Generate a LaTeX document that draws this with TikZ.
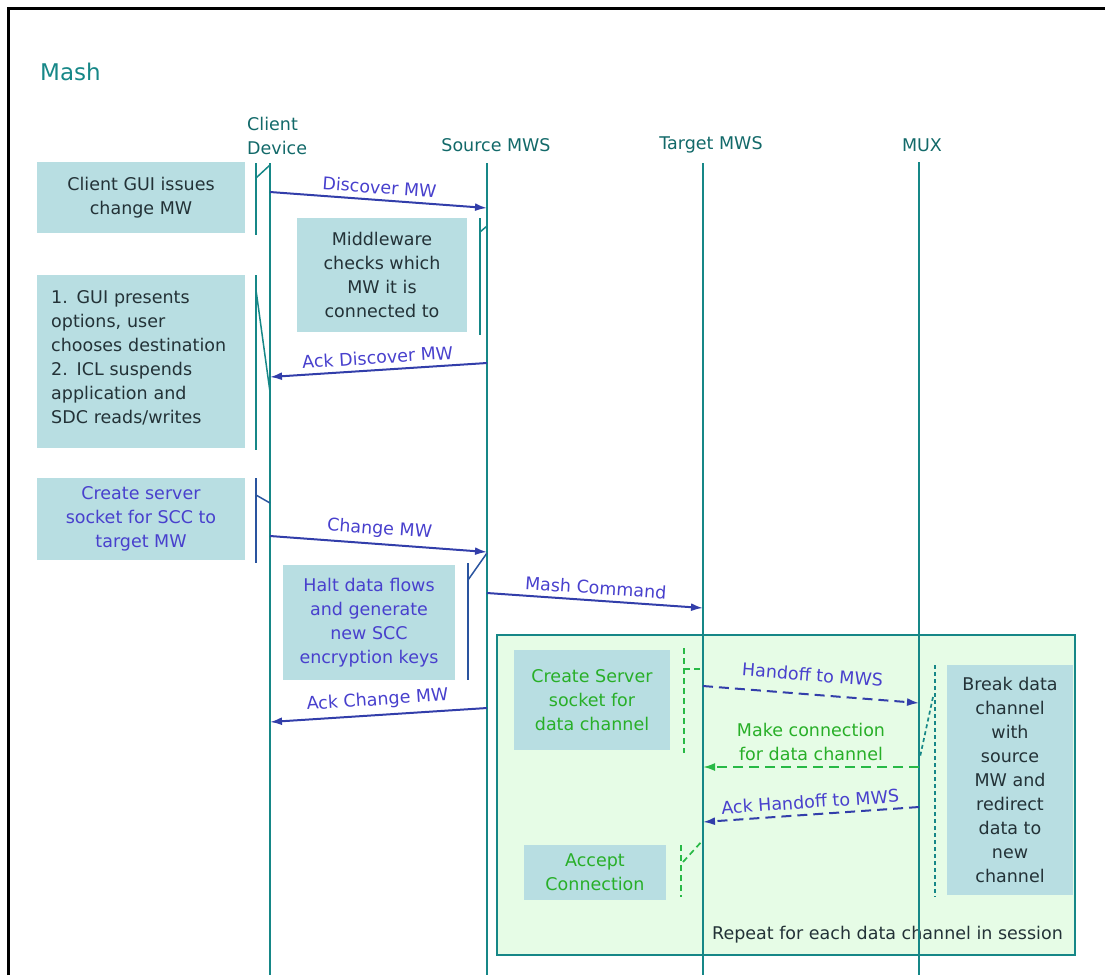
\documentclass[tikz,border=0pt]{standalone}
\usepackage{fontspec}
\setmainfont{DejaVu Sans}
\usetikzlibrary{arrows.meta}

\definecolor{lifeteal}{RGB}{22,135,135}
\definecolor{headteal}{RGB}{18,105,105}
\definecolor{boxblue}{RGB}{184,222,226}
\definecolor{msgblue}{RGB}{50,62,170}
\definecolor{lblblue}{RGB}{72,64,205}
\definecolor{repgreen}{RGB}{230,252,230}
\definecolor{dashgreen}{RGB}{40,185,70}
\definecolor{txtgreen}{RGB}{40,175,40}
\definecolor{txtdark}{RGB}{35,50,55}

\begin{document}
\begin{tikzpicture}[x=1pt,y=-1pt,
  every node/.style={inner sep=0pt, font=\fontsize{17.5}{24}\selectfont},
  actbox/.style={fill=boxblue, draw=none, align=center, text=txtdark},
  header/.style={text=headteal},
  lifeline/.style={draw=lifeteal, line width=1.8pt},
  actbar/.style={draw=lifeteal, line width=1.5pt},
  actbarblue/.style={draw=msgblue!70!lifeteal, line width=1.5pt},
  msg/.style={draw=msgblue, line width=2pt, -{Latex[length=12pt,width=8pt]}},
  dmsg/.style={msg, dash pattern=on 10pt off 6pt},
  gmsg/.style={draw=dashgreen, line width=2pt, dash pattern=on 10pt off 6pt, -{Latex[length=12pt,width=8pt]}},
  msglbl/.style={text=lblblue, sloped, above=5pt},
  gdash/.style={draw=dashgreen, line width=1.7pt, dash pattern=on 6pt off 4pt},
  mdash/.style={draw=lifeteal, line width=1.7pt, dash pattern=on 4pt off 3pt}
]
\useasboundingbox (0,0) rectangle (1105,975);

% outer frame (top and left edges)
\draw[line width=3pt, black] (8,975) -- (8,8) -- (1105,8);

% title
\node[text=lifeteal, font=\fontsize{23}{28}\selectfont, anchor=west] (title) at (40,72) {Mash};

% repeated region
\node[fill=repgreen, draw=lifeteal, line width=2pt, minimum width=578, minimum height=320] (repeat) at (786,795) {};
\node[text=txtdark, anchor=east] (replbl) at (1063,935) {Repeat for each data channel in session};

% lifeline heads
\node[header, align=left, anchor=west] (hclient) at (247,136) {Client\\Device};
\node[header] (hsource) at (496,145) {Source MWS};
\node[header] (htarget) at (711,145) {Target MWS};
\node[header] (hmux) at (922,145) {MUX};

% lifelines
\coordinate (cTop) at (270,163); \coordinate (cBot) at (270,975);
\coordinate (sTop) at (487,163); \coordinate (sBot) at (487,975);
\coordinate (tTop) at (703,163); \coordinate (tBot) at (703,975);
\coordinate (mTop) at (919,162); \coordinate (mBot) at (919,975);
\draw[lifeline] (cTop) -- (cBot);
\draw[lifeline] (sTop) -- (sBot);
\draw[lifeline] (tTop) -- (tBot);
\draw[lifeline] (mTop) -- (mBot);

% action boxes
\node[actbox, minimum width=208, minimum height=71] (guiissue) at (141,197.5) {Client GUI issues\\change MW};
\node[actbox, minimum width=170, minimum height=114] (mwcheck) at (382,275) {Middleware\\checks which\\MW it is\\connected to};
\node[actbox, minimum width=208, minimum height=173] (guipres) at (141,361.5) {};
\node[text=txtdark, align=left, text width=185, anchor=west] (guipreslbl) at (51,358) {1. GUI presents\\options, user\\chooses destination\\2. ICL suspends\\application and\\SDC reads/writes};
\node[actbox, text=lblblue, minimum width=208, minimum height=82] (sccsock) at (141,519) {Create server\\socket for SCC to\\target MW};
\node[actbox, text=lblblue, minimum width=172, minimum height=115] (halt) at (369,622.5) {Halt data flows\\and generate\\new SCC\\encryption keys};
\node[actbox, text=txtgreen, minimum width=156, minimum height=100] (srvsock) at (592,700) {Create Server\\socket for\\data channel};
\node[actbox, text=txtgreen, minimum width=142, minimum height=55] (accept) at (595,872.5) {Accept\\Connection};
\node[actbox, minimum width=126, minimum height=230] (breakch) at (1010,780) {Break data\\channel\\with\\source\\MW and\\redirect\\data to\\new\\channel};

% activation bars
\draw[actbar] (256,163) -- (256,235);
\draw[actbar] (256,178) -- (270,165);
\draw[actbar] (480,218) -- (480,335);
\draw[actbar] (480,232) -- (487,226);
\draw[actbar] (256,275) -- (256,450);
\draw[actbar] (256,290) -- (270,392);
\draw[actbarblue] (256,478) -- (256,563);
\draw[actbarblue] (256,495) -- (270,503);
\draw[actbarblue] (468,563) -- (468,680);
\draw[actbarblue] (468,580) -- (487,553);
\draw[gdash] (684,648) -- (684,753);
\draw[gdash] (684,669) -- (703,669);
\draw[gdash] (681,845) -- (681,897);
\draw[gdash] (683,862) -- (703,840);
\draw[mdash] (935,665) -- (935,897);
\draw[mdash] (933,697) -- (920,757);

% message anchor points on the lifelines
\coordinate (c1) at (270,192);  \coordinate (s1) at (487,208);
\coordinate (s2) at (487,363);  \coordinate (c2) at (270,377);
\coordinate (c3) at (270,536);  \coordinate (s3) at (487,552);
\coordinate (s4) at (487,593);  \coordinate (t4) at (703,608);
\coordinate (s5) at (487,708);  \coordinate (c5) at (270,722);
\coordinate (t6) at (703,686);  \coordinate (m6) at (919,703);
\coordinate (m7) at (919,767);  \coordinate (t7) at (703,767);
\coordinate (m8) at (919,807);  \coordinate (t8) at (703,822);

% messages
\draw[msg] (c1) -- node[msglbl] {Discover MW} (s1);
\draw[msg] (s2) -- node[msglbl] {Ack Discover MW} (c2);
\draw[msg] (c3) -- node[msglbl] {Change MW} (s3);
\draw[msg] (s4) -- node[msglbl] {Mash Command} (t4);
\draw[msg] (s5) -- node[msglbl] {Ack Change MW} (c5);
\draw[dmsg] (t6) -- node[msglbl, above=7pt] {Handoff to MWS} (m6);
\draw[gmsg] (m7) -- node[above=5pt, text=txtgreen, align=center] {Make connection\\for data channel} (t7);
\draw[dmsg] (m8) -- node[msglbl] {Ack Handoff to MWS} (t8);
\end{tikzpicture}
\end{document}
